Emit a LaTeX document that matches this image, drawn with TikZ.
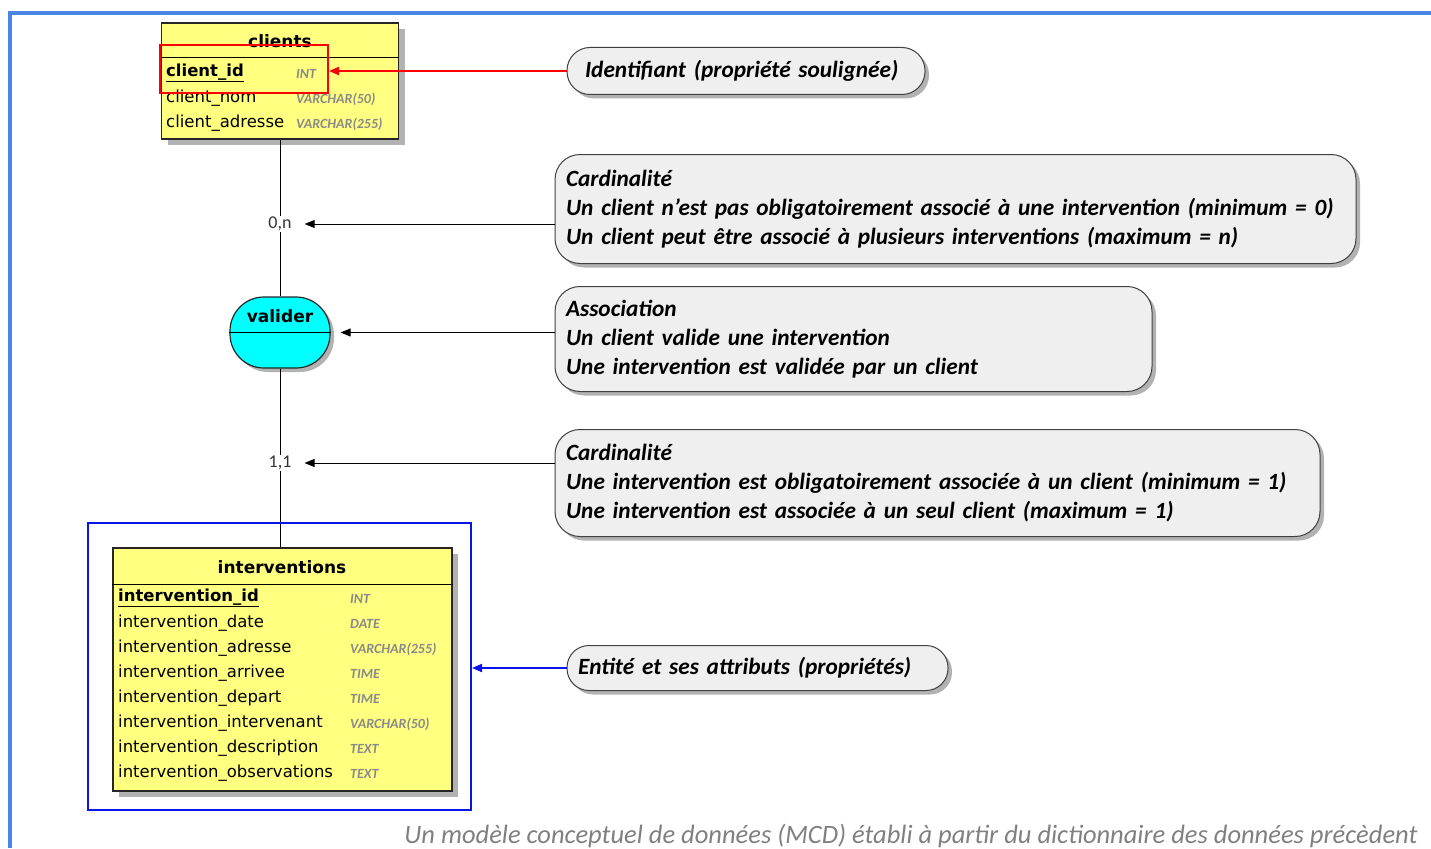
\documentclass[tikz,border=0pt]{standalone}
\usepackage{fontspec}
\setmainfont{Carlito}
\newfontfamily\tablefont{DejaVu Sans}
\usetikzlibrary{arrows.meta,shadows}

\definecolor{tabyellow}{HTML}{FFFF80}
\definecolor{assoccyan}{HTML}{00FFFF}
\definecolor{notegray}{HTML}{EFEFEF}
\definecolor{frameblue}{HTML}{4A86E8}
\definecolor{boxblue}{HTML}{0A14E6}
\definecolor{typegray}{HTML}{8A8A8A}

\tikzset{
    entity/.style={draw=black!85,line width=1.5pt,fill=tabyellow,inner sep=0pt,
        drop shadow={shadow xshift=6pt,shadow yshift=-6pt,fill=black!30,opacity=1}},
    assoc/.style={draw=black!85,line width=1.2pt,fill=assoccyan,rounded corners=34pt,inner sep=0pt,
        minimum width=100pt,minimum height=71pt,
        drop shadow={shadow xshift=4pt,shadow yshift=-4pt,fill=black!30,opacity=1}},
    note/.style={draw=black!75,line width=1pt,fill=notegray,align=left,inner ysep=0pt,
        font=\fontsize{23.3}{29}\selectfont\bfseries\itshape,
        drop shadow={shadow xshift=4pt,shadow yshift=-4pt,fill=black!30,opacity=1}},
    pointer/.style={-{Triangle[length=10pt,width=8pt]},line width=1pt},
    card/.style={fill=white,inner sep=1pt,font=\fontsize{18}{20}\selectfont,text=black!80}
}

\begin{document}
\begin{tikzpicture}[x=1pt,y=-1pt]
    \useasboundingbox (0,0) rectangle (1431,848);
    \draw[frameblue,line width=4pt] (1431,13) -- (10,13) -- (10,848);

    \node[entity,minimum width=237pt,minimum height=116pt] (clients) at (280,81) {};
    \node[entity,minimum width=339pt,minimum height=243pt] (interventions) at (282.5,669.5) {};
    \node[assoc] (valider) at (280,332.5) {};

    \draw[line width=0.8pt] (clients.west |- 0,57) -- (clients.east |- 0,57);
    \draw[line width=0.8pt] (interventions.west |- 0,584) -- (interventions.east |- 0,584);
    \draw[line width=1pt] (valider.west) -- (valider.east);

    \path[draw,line width=1pt] (clients.south) -- (valider.north);
    \path[draw,line width=1pt] (valider.south) -- (valider.south |- interventions.north);

    \begin{scope}[every node/.style={font=\tablefont\fontsize{17}{20}\selectfont\bfseries}]
        \node (clientsTitle) at (280,41) {clients};
        \node (interventionsTitle) at (282,567) {interventions};
        \node (validerTitle) at (280,316) {valider};
    \end{scope}

    \begin{scope}[every node/.style={anchor=west,inner sep=0pt,font=\tablefont\fontsize{16.5}{20}\selectfont}]
        \node (clientId) at (166,73) {\underline{\bfseries client\_id}};
        \node (clientNom) at (166,98) {client\_nom};
        \node (clientAdresse) at (166,123) {client\_adresse};
        \node (intId) at (118,598) {\underline{\bfseries intervention\_id}};
        \node (intDate) at (118,623) {intervention\_date};
        \node (intAdresse) at (118,648) {intervention\_adresse};
        \node (intArrivee) at (118,673) {intervention\_arrivee};
        \node (intDepart) at (118,698) {intervention\_depart};
        \node (intIntervenant) at (118,723) {intervention\_intervenant};
        \node (intDescription) at (118,748) {intervention\_description};
        \node (intObservations) at (118,773) {intervention\_observations};
    \end{scope}

    \begin{scope}[every node/.style={anchor=west,inner sep=0pt,text=typegray,font=\fontsize{14}{15}\selectfont\bfseries\itshape}]
        \node (clientIdType) at (296,74) {INT};
        \node (clientNomType) at (296,99) {VARCHAR(50)};
        \node (clientAdresseType) at (296,124) {VARCHAR(255)};
        \node (intIdType) at (350,599) {INT};
        \node (intDateType) at (350,624) {DATE};
        \node (intAdresseType) at (350,649) {VARCHAR(255)};
        \node (intArriveeType) at (350,674) {TIME};
        \node (intDepartType) at (350,699) {TIME};
        \node (intIntervenantType) at (350,724) {VARCHAR(50)};
        \node (intDescriptionType) at (350,749) {TEXT};
        \node (intObservationsType) at (350,774) {TEXT};
    \end{scope}

    \node[draw=red,line width=2pt,minimum width=168pt,minimum height=48pt] (idFrame) at (244,69) {};
    \node[draw=boxblue,line width=2pt,minimum width=383pt,minimum height=287pt] (entityFrame) at (279.5,666.5) {};

    \node[card] (card0n) at (280,224) {0,n};
    \node[card] (card11) at (280,463) {1,1};

    \node[note,rounded corners=23pt,minimum height=47pt,text width=322pt,inner xsep=18pt] (noteId) at (746,71) {Identifiant (propriété soulignée)};
    \node[note,rounded corners=25pt,minimum height=109pt,text width=779pt,inner xsep=11pt] (noteCardClient) at (955.5,209)
        {Cardinalité\\Un client n'est pas obligatoirement associé à une intervention (minimum = 0)\\Un client peut être associé à plusieurs interventions (maximum = n)};
    \node[note,rounded corners=25pt,minimum height=105pt,text width=575pt,inner xsep=11pt] (noteAssoc) at (853.5,339)
        {Association\\Un client valide une intervention\\Une intervention est validée par un client};
    \node[note,rounded corners=25pt,minimum height=107pt,text width=743pt,inner xsep=11pt] (noteCardInt) at (937.5,483)
        {Cardinalité\\Une intervention est obligatoirement associée à un client (minimum = 1)\\Une intervention est associée à un seul client (maximum = 1)};
    \node[note,rounded corners=22pt,minimum height=45pt,text width=359pt,inner xsep=11pt] (noteEntity) at (757.5,668)
        {Entité et ses attributs (propriétés)};

    \draw[pointer,red,line width=2pt] (noteId.west) -- (idFrame.east |- noteId.west);
    \draw[pointer] (noteCardClient.west |- card0n) -- ([xshift=12pt]card0n.east);
    \draw[pointer] (noteAssoc.west |- valider) -- ([xshift=10pt]valider.east);
    \draw[pointer] (noteCardInt.west |- card11) -- ([xshift=12pt]card11.east);
    \draw[pointer,boxblue,line width=2pt] (noteEntity.west) -- (entityFrame.east |- noteEntity.west);

    \node[anchor=east,text=black!50,font=\fontsize{26.5}{30}\selectfont\itshape] (caption) at (1421,836)
        {Un modèle conceptuel de données (MCD) établi à partir du dictionnaire des données précèdent};
\end{tikzpicture}
\end{document}
